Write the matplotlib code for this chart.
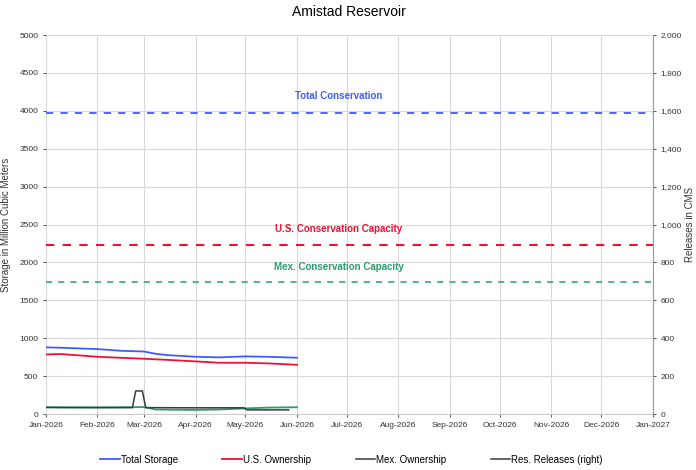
import numpy as np
import pandas as pd
import matplotlib
matplotlib.use('Agg')
import matplotlib.pyplot as plt
import matplotlib.dates as mdates
import matplotlib.ticker as mticker
from matplotlib.lines import Line2D

plt.rcParams['font.family'] = ['Liberation Sans', 'DejaVu Sans']

# ── Data ──
storage_dates = ['2026-01-01', '2026-01-10', '2026-02-01', '2026-02-15', '2026-03-01', '2026-03-08',
                 '2026-03-15', '2026-04-01', '2026-04-15', '2026-05-01', '2026-05-15', '2026-06-01']
total_storage = [880, 875, 857, 835, 825, 795, 778, 756, 748, 761, 755, 743]
us_ownership = [787, 792, 756, 742, 730, 722, 715, 695, 677, 677, 668, 650]
mex_ownership = [90, 88, 88, 90, 92, 60, 58, 55, 60, 75, 85, 90]

release_dates = ['2026-01-01', '2026-02-01', '2026-02-22', '2026-02-24', '2026-02-28', '2026-03-02',
                 '2026-04-01', '2026-04-30', '2026-05-02', '2026-05-27']
releases_cms = [35, 34, 34, 122, 122, 34, 33, 33, 22, 22]

total_cons = 3975
us_cons = 2230
mex_cons = 1740

c_total = '#3d5cff'
c_us = '#ee1133'
c_mex = '#2a9d6a'
c_rel = '#3a3a3a'

sd = pd.to_datetime(storage_dates)
rd = pd.to_datetime(release_dates)

fig = plt.figure(figsize=(6.96, 4.70), dpi=100)
ax = fig.add_axes([0.066, 0.119, 0.872, 0.8065])
ax2 = ax.twinx()

ax.plot(sd, total_storage, color=c_total, lw=1.3, zorder=5)
ax.plot(sd, us_ownership, color=c_us, lw=1.3, zorder=5)
ax.plot(sd, mex_ownership, color=c_mex, lw=1.3, zorder=4)
ax2.plot(rd, releases_cms, color=c_rel, lw=1.1, zorder=5)

ax.axhline(total_cons, color=c_total, ls=(0, (4, 4)), lw=1.3)
ax.axhline(us_cons, color=c_us, ls=(0, (4, 4)), lw=1.5)
ax.axhline(mex_cons, color=c_mex, ls=(0, (4, 4)), lw=1.1)

xmid = pd.Timestamp('2026-06-26')
ax.text(xmid, 4130, 'Total Conservation', color=c_total, fontsize=7, fontweight='bold', ha='center', va='bottom')
ax.text(xmid, 2380, 'U.S. Conservation Capacity', color=c_us, fontsize=7, fontweight='bold', ha='center', va='bottom')
ax.text(xmid, 1870, 'Mex. Conservation Capacity', color=c_mex, fontsize=7, fontweight='bold', ha='center', va='bottom')

ax.set_xlim(pd.Timestamp('2026-01-01'), pd.Timestamp('2027-01-01'))
ax.set_ylim(0, 5000)
ax2.set_ylim(0, 2000)
ax.xaxis.set_major_locator(mdates.MonthLocator())
ax.xaxis.set_major_formatter(mdates.DateFormatter('%b-%Y'))
ax.yaxis.set_major_locator(mticker.MultipleLocator(500))
ax2.yaxis.set_major_locator(mticker.MultipleLocator(200))
ax2.yaxis.set_major_formatter(mticker.StrMethodFormatter('{x:,.0f}'))

ax.grid(True, color='#d8d8d8', lw=0.8)
ax.set_axisbelow(True)
for a in (ax, ax2):
    for s in a.spines.values():
        s.set_visible(False)
    a.tick_params(labelsize=6, colors='#333333', length=2, width=0.6)
ax2.spines['right'].set_visible(True)
ax2.spines['right'].set_color('#999999')
ax.spines['bottom'].set_visible(True)
ax.spines['bottom'].set_color('#cccccc')

ax.set_ylabel('Storage in Million Cubic Meters', fontsize=7, color='#333333', labelpad=6)
ax2.set_ylabel('Releases in CMS', fontsize=7, color='#333333', labelpad=2)
ax.set_title('Amistad Reservoir', fontsize=10, pad=14)

handles = [Line2D([], [], color=c_total, lw=1.3),
           Line2D([], [], color=c_us, lw=1.3),
           Line2D([], [], color=c_rel, lw=1.1),
           Line2D([], [], color=c_rel, lw=1.1)]
labels = ['Total Storage', 'U.S. Ownership', 'Mex. Ownership', 'Res. Releases (right)']
fig.legend(handles, labels, loc='center', bbox_to_anchor=(0.505, 0.022), ncol=4, frameon=False,
           fontsize=7, handlelength=2.0, handletextpad=0.1, columnspacing=4.6)

fig.savefig('out.png', dpi=100)
